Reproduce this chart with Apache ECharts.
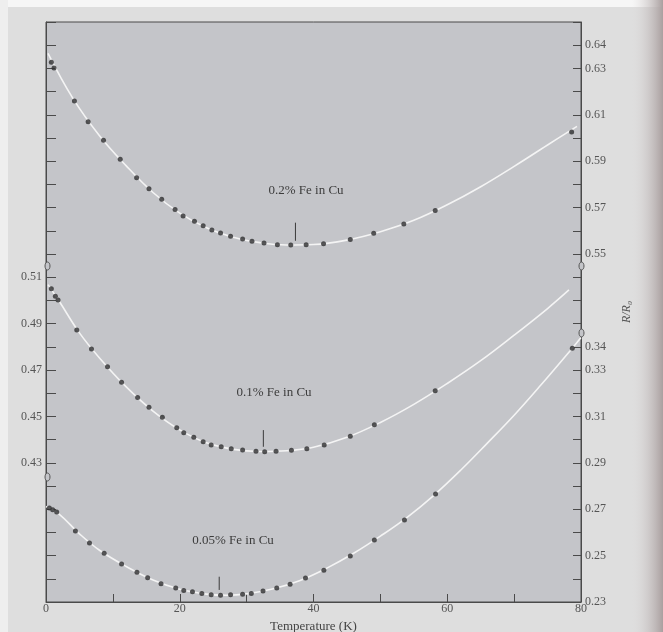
<!DOCTYPE html>
<html>
<head>
<meta charset="utf-8">
<style>
  html, body { margin: 0; padding: 0; background: #ffffff; }
  #chart { width: 663px; height: 632px; }
</style>
<script src="https://cdn.jsdelivr.net/npm/echarts@6/dist/echarts.min.js"></script>
</head>
<body>
<div id="chart"></div>
<script>
// measured points, temperature in K, value R/R0
var dotsT_02 = [0.8, 1.2, 4.25, 6.3, 8.6, 11.1, 13.55, 15.4, 17.3, 19.3, 20.5, 22.2, 23.5, 24.8, 26.1, 27.6, 29.4, 30.8, 32.6, 34.6, 36.6, 38.9, 41.5, 45.5, 49.0, 53.5, 58.2, 78.6];
var dotsR_02 = [0.6326, 0.6302, 0.6160, 0.6070, 0.5990, 0.5908, 0.5829, 0.5781, 0.5736, 0.5692, 0.5664, 0.5641, 0.5622, 0.5603, 0.5590, 0.5576, 0.5565, 0.5555, 0.5547, 0.5540, 0.5539, 0.5540, 0.5544, 0.5563, 0.5589, 0.5629, 0.5687, 0.6026];

var dotsT_01 = [0.8, 1.4, 1.8, 4.6, 6.8, 9.2, 11.3, 13.7, 15.4, 17.4, 19.55, 20.6, 22.1, 23.5, 24.7, 26.2, 27.7, 29.4, 31.4, 32.7, 34.4, 36.7, 39.0, 41.6, 45.5, 49.1, 58.2];
var dotsR_01 = [0.5050, 0.5018, 0.5002, 0.4872, 0.4791, 0.4714, 0.4647, 0.4581, 0.4539, 0.4496, 0.4451, 0.4430, 0.4410, 0.4391, 0.4377, 0.4369, 0.4361, 0.4355, 0.4350, 0.4348, 0.4350, 0.4354, 0.4361, 0.4377, 0.4414, 0.4464, 0.4611];

var dotsT_005 = [0.5, 1.0, 1.6, 4.4, 6.5, 8.7, 11.3, 13.6, 15.2, 17.2, 19.4, 20.6, 21.9, 23.3, 24.7, 26.1, 27.6, 29.4, 30.7, 32.45, 34.5, 36.5, 38.8, 41.55, 45.5, 49.1, 53.6, 58.25, 78.7];
var dotsR_005 = [0.2705, 0.2698, 0.2688, 0.2606, 0.2554, 0.2510, 0.2464, 0.2428, 0.2405, 0.2379, 0.2360, 0.2350, 0.2344, 0.2337, 0.2331, 0.2329, 0.2331, 0.2333, 0.2337, 0.2347, 0.2360, 0.2376, 0.2403, 0.2437, 0.2498, 0.2567, 0.2653, 0.2766, 0.3394];

// the white fitted curves
var curveT_02 = [0.3, 4, 8, 12, 16, 20, 24, 28, 32, 36, 40, 45, 50, 55, 60, 65, 70, 75, 79.4];
var curveR_02 = [0.6365, 0.6172, 0.6010, 0.5880, 0.5765, 0.5676, 0.5613, 0.5572, 0.5549, 0.5539, 0.5541, 0.5560, 0.5596, 0.5645, 0.5712, 0.5790, 0.5878, 0.5970, 0.6050];

var curveT_01 = [0.3, 2, 5, 8, 12, 16, 20, 24, 28, 32, 36, 40, 45, 50, 55, 60, 65, 70, 75, 78.2];
var curveR_01 = [0.5068, 0.4995, 0.4860, 0.4752, 0.4627, 0.4523, 0.4442, 0.4386, 0.4358, 0.4349, 0.4352, 0.4367, 0.4410, 0.4474, 0.4552, 0.4642, 0.4740, 0.4850, 0.4965, 0.5045];

var curveT_005 = [0, 2, 5, 8, 12, 16, 20, 24, 27, 30, 34, 38, 42, 46, 50, 54, 58, 62, 66, 70, 74, 78.7, 80];
var curveR_005 = [0.2712, 0.2678, 0.2594, 0.2523, 0.2453, 0.2395, 0.2355, 0.2334, 0.2329, 0.2335, 0.2357, 0.2393, 0.2446, 0.2510, 0.2584, 0.2665, 0.2760, 0.2868, 0.2985, 0.3105, 0.3235, 0.3394, 0.3440];

// short vertical markers at the minima
var markT_02 = 37.3, markR_02 = [0.5557, 0.5635];
var markT_01 = 32.5, markR_01 = [0.4369, 0.4441];
var markT_005 = 25.9, markR_005 = [0.2352, 0.2409];

// tick labels
var xLabels = [0, 20, 40, 60, 80];
var leftLabels = [0.43, 0.45, 0.47, 0.49, 0.51];
var rightUpperLabels = [0.55, 0.57, 0.59, 0.61, 0.63, 0.64];
var rightLowerLabels = [0.23, 0.25, 0.27, 0.29, 0.31, 0.33, 0.34];

function pairs(xs, ys) {
    return xs.map(function (x, i) { return [x, ys[i]]; });
}
function pickLabels(list) {
    return function (v) {
        var k = Math.round(v * 100);
        for (var i = 0; i < list.length; i++) {
            if (Math.round(list[i] * 100) === k) return v.toFixed(2);
        }
        return '';
    };
}

var serif = 'Liberation Serif';
var axisColor = '#4a4a4a';
var labelStyle = { color: '#555', fontFamily: serif, fontSize: 12 };
var noteFont = '13px "Liberation Serif"';

function dotSeries(xs, ys, axis) {
    return {
        type: 'scatter', yAxisIndex: axis, data: pairs(xs, ys),
        symbolSize: 5, itemStyle: { color: '#2e2e30' }, z: 4, silent: true
    };
}
function curveSeries(xs, ys, axis) {
    return {
        type: 'line', yAxisIndex: axis, data: pairs(xs, ys), smooth: 0.4,
        showSymbol: false, lineStyle: { color: '#f4f4f4', width: 1.6 }, z: 3, silent: true
    };
}
function markSeries(t, ys, axis) {
    return {
        type: 'line', yAxisIndex: axis, data: [[t, ys[0]], [t, ys[1]]],
        showSymbol: false, lineStyle: { color: '#3a3a3a', width: 1 }, z: 3, silent: true
    };
}

var chart = echarts.init(document.getElementById('chart'));

var option = {
    backgroundColor: '#dedede',
    animation: false,
    grid: {
        left: 46, top: 22, width: 535, height: 580,
        outerBoundsMode: 'none', containLabel: false,
        show: true, backgroundColor: '#c4c5c9', borderColor: axisColor, borderWidth: 1
    },
    xAxis: {
        type: 'value', min: 0, max: 80, interval: 10,
        name: 'Temperature (K)', nameLocation: 'middle', nameGap: 15,
        nameTextStyle: { color: '#444', fontFamily: serif, fontSize: 13 },
        axisLine: { lineStyle: { color: axisColor } },
        axisTick: { inside: true, length: 8, lineStyle: { color: axisColor } },
        axisLabel: Object.assign({ margin: 1, formatter: function (v) {
            return xLabels.indexOf(v) >= 0 ? String(v) : '';
        } }, labelStyle),
        splitLine: { show: false }
    },
    yAxis: [
        {
            type: 'value', position: 'left', min: 0.37, max: 0.62, interval: 0.01,
            axisLine: { show: true, lineStyle: { color: axisColor } },
            axisTick: { show: true, inside: true, length: 10, lineStyle: { color: axisColor } },
            axisLabel: Object.assign({ margin: 4, formatter: pickLabels(leftLabels) }, labelStyle),
            splitLine: { show: false }
        },
        {
            type: 'value', position: 'right', min: 0.40, max: 0.65, interval: 0.01,
            axisLine: { show: true, lineStyle: { color: axisColor } },
            axisTick: { show: true, inside: true, length: 8, lineStyle: { color: axisColor } },
            axisLabel: Object.assign({ margin: 4, formatter: pickLabels(rightUpperLabels) }, labelStyle),
            splitLine: { show: false }
        },
        {
            type: 'value', position: 'right', min: 0.23, max: 0.48, interval: 0.01,
            name: 'R/R₀', nameLocation: 'middle', nameGap: 40, nameRotate: 90,
            nameTextStyle: { color: '#555', fontFamily: serif, fontSize: 12, fontStyle: 'italic' },
            axisLine: { show: false },
            axisTick: { show: false },
            axisLabel: Object.assign({ margin: 4, formatter: pickLabels(rightLowerLabels) }, labelStyle),
            splitLine: { show: false }
        }
    ],
    graphic: [
        { type: 'rect', left: 0, top: 0, shape: { width: 663, height: 7 }, style: { fill: '#f6f6f6' }, z: -1 },
        { type: 'rect', left: 0, top: 0, shape: { width: 8, height: 632 }, style: { fill: '#eeeeee' }, z: -1 },
        {
            type: 'rect', left: 632, top: 0, shape: { width: 31, height: 632 }, z: -1,
            style: { fill: new echarts.graphic.LinearGradient(0, 0, 1, 0, [
                { offset: 0, color: 'rgba(220,216,216,0)' },
                { offset: 1, color: '#a99f9f' }
            ]) }
        },
        { type: 'text', x: 306, y: 191, style: { text: '0.2% Fe in Cu', fill: '#3c3c3c', font: noteFont, align: 'center', verticalAlign: 'middle' }, z: 10 },
        { type: 'text', x: 274, y: 393, style: { text: '0.1% Fe in Cu', fill: '#3c3c3c', font: noteFont, align: 'center', verticalAlign: 'middle' }, z: 10 },
        { type: 'text', x: 233, y: 541, style: { text: '0.05% Fe in Cu', fill: '#3c3c3c', font: noteFont, align: 'center', verticalAlign: 'middle' }, z: 10 },
        { type: 'ellipse', shape: { cx: 47.5, cy: 266, rx: 2.5, ry: 4 }, style: { fill: '#c4c5c9', stroke: '#555', lineWidth: 1 }, z: 10 },
        { type: 'ellipse', shape: { cx: 581.5, cy: 266, rx: 2.5, ry: 4 }, style: { fill: '#c4c5c9', stroke: '#555', lineWidth: 1 }, z: 10 },
        { type: 'ellipse', shape: { cx: 581.5, cy: 333, rx: 2.5, ry: 4 }, style: { fill: '#c4c5c9', stroke: '#555', lineWidth: 1 }, z: 10 },
        { type: 'ellipse', shape: { cx: 47.5, cy: 477, rx: 2.5, ry: 4 }, style: { fill: '#c4c5c9', stroke: '#555', lineWidth: 1 }, z: 10 }
    ],
    series: [
        curveSeries(curveT_02, curveR_02, 1),
        curveSeries(curveT_01, curveR_01, 0),
        curveSeries(curveT_005, curveR_005, 2),
        markSeries(markT_02, markR_02, 1),
        markSeries(markT_01, markR_01, 0),
        markSeries(markT_005, markR_005, 2),
        dotSeries(dotsT_02, dotsR_02, 1),
        dotSeries(dotsT_01, dotsR_01, 0),
        dotSeries(dotsT_005, dotsR_005, 2)
    ]
};

chart.setOption(option);
window.onresize = function () {
    chart.resize();
};
</script>
</body>
</html>
